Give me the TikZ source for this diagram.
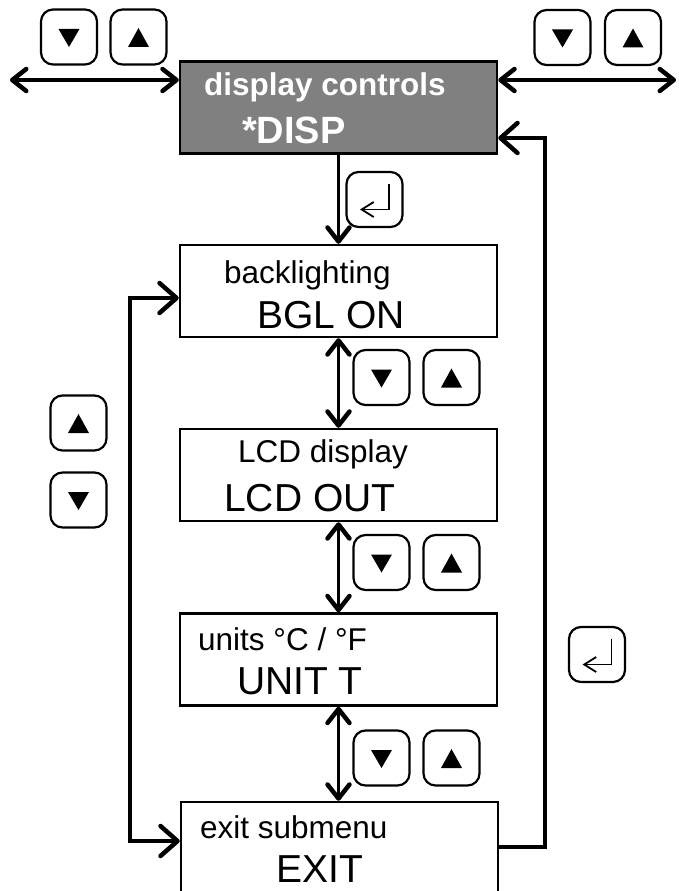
\documentclass[tikz,border=0pt]{standalone}
\usepackage{fontspec}
\setmainfont{Liberation Sans}
\usetikzlibrary{arrows.meta}
\tikzset{
  barb/.tip={Straight Barb[length=14pt,width=22pt,line width=4.5pt,round]},
  bigbarb/.tip={Straight Barb[length=17pt,width=30pt,line width=4.5pt,round]},
  entbarb/.tip={Straight Barb[length=12pt,width=15pt,line width=1.8pt]},
  menubox/.style={draw=black, line width=2.5pt, fill=white, minimum width=317pt, minimum height=92pt, inner sep=0pt},
  graybox/.style={menubox, fill=gray},
  btn/.style={draw=black, line width=2.2pt, rounded corners=12pt, minimum width=56pt, minimum height=55pt, inner sep=0pt},
  smalltxt/.style={font=\fontsize{31.5}{36}\selectfont, inner sep=0pt, anchor=base west},
  bigtxt/.style={font=\fontsize{39}{44}\selectfont, inner sep=0pt, anchor=base west},
  conn/.style={line width=3.8pt},
  downbtn/.pic={\node[btn] (-b) {}; \fill (-10.5,-8) -- (10.5,-8) -- (0,10) -- cycle;},
  upbtn/.pic={\node[btn] (-b) {}; \fill (-10.5,10) -- (10.5,10) -- (0,-9) -- cycle;},
  enterbtn/.pic={\node[btn] (-b) {}; \coordinate (-s) at (14.5,-16); \coordinate (-c) at (14.5,10); \coordinate (-e) at (-14.5,10);
    \draw[line width=1.8pt, -entbarb] (-s) -- (-c) -- (-e);}
}
\begin{document}
\begin{tikzpicture}[x=1pt,y=-1pt]
\useasboundingbox (0,0) rectangle (678,891);
\clip (0,0) rectangle (678,891);
\fill[white] (0,0) rectangle (678,891);

% boxes
\node[graybox] (disp) at (338.5,107.5) {};
\node[smalltxt, text=white, font=\fontsize{31.5}{36}\selectfont\bfseries] (t1) at (204,95) {display controls};
\node[bigtxt, text=white, font=\fontsize{38}{44}\selectfont\bfseries] (t2) at (242,143) {*DISP};

\node[menubox] (bgl) at (338.5,291) {};
\node[smalltxt] (t3) at (224,283) {backlighting};
\node[bigtxt] (t4) at (257,328) {BGL ON};

\node[menubox] (lcd) at (338.5,475) {};
\node[smalltxt] (t5) at (238,462) {LCD display};
\node[bigtxt] (t6) at (224,511) {LCD OUT};

\node[menubox] (unit) at (338.5,659.5) {};
\node[smalltxt] (t7) at (198,650) {units °C / °F};
\node[bigtxt] (t8) at (237,694) {UNIT T};

\node[menubox] (exit) at (339.5,848) {};
\node[smalltxt] (t9) at (200,838) {exit submenu};
\node[bigtxt] (t10) at (276,882) {EXIT};

% buttons
\pic (tld) at (69,37) {downbtn};
\pic (tlu) at (138.5,37) {upbtn};
\pic (trd) at (562.5,37.5) {downbtn};
\pic (tru) at (633,37.5) {upbtn};
\pic (ent1) at (374.5,199.5) {enterbtn};
\pic (m1d) at (381.5,377.5) {downbtn};
\pic (m1u) at (451.5,377.5) {upbtn};
\pic (m2d) at (381.5,562.5) {downbtn};
\pic (m2u) at (451.5,562.5) {upbtn};
\pic (m3d) at (381.5,758) {downbtn};
\pic (m3u) at (451.5,758) {upbtn};
\pic (lu) at (78.5,423) {upbtn};
\pic (ld) at (78.5,500) {downbtn};
\pic (ent2) at (597,654.5) {enterbtn};

% connectors
\coordinate (L) at (10,80);
\coordinate (R) at (676,80);
\draw[conn, barb-barb] (L) -- (disp.west |- L);
\draw[conn, barb-barb] (disp.east |- R) -- (R);
\draw[conn, -barb] (disp.south) -- (bgl.north);
\draw[conn, barb-barb] (bgl.south) -- (lcd.north);
\draw[conn, barb-barb] (lcd.south) -- (unit.north);
\draw[conn, barb-barb] (unit.south) -- (unit.south |- exit.north);

\coordinate (lt) at (130,298);
\coordinate (lb) at (130,841);
\draw[conn, bigbarb-bigbarb] (bgl.west |- lt) -- (lt) -- (lb) -- (exit.west |- lb);

\coordinate (rb) at (545,847);
\coordinate (rt) at (545,138);
\draw[conn, -bigbarb] (exit.east |- rb) -- (rb) -- (rt) -- (disp.east |- rt);
\end{tikzpicture}
\end{document}
